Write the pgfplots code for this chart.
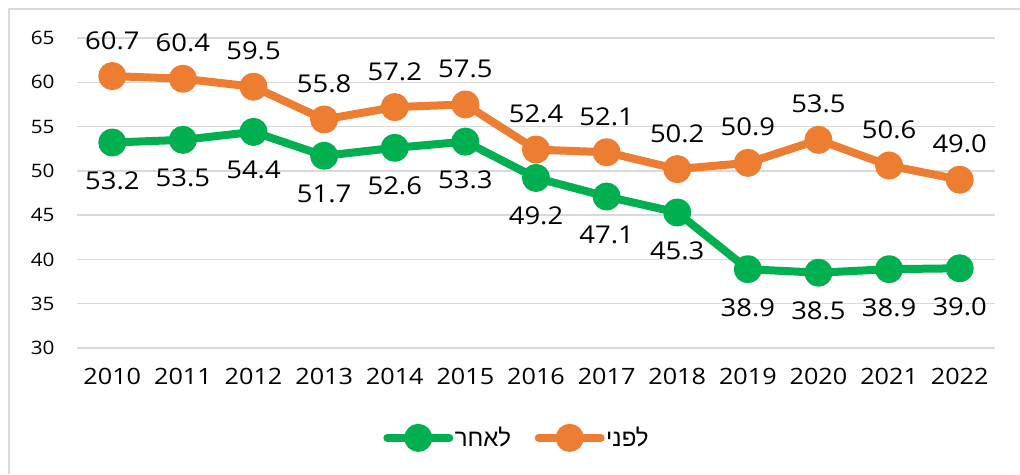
\documentclass[border=0pt]{standalone}
\usepackage{pgfplots}
\pgfplotsset{compat=1.18}
\usepackage{fontspec}
\setmainfont{Open Sans}[FakeStretch=1.12]
\newfontfamily\hebfont[Script=Hebrew]{Liberation Sans}
\TeXXeTstate=1
\definecolor{cOrange}{HTML}{ED7D31}
\definecolor{cGreen}{HTML}{00B050}
\definecolor{cGrid}{HTML}{D9D9D9}
\begin{document}
\begin{tikzpicture}[x=1pt,y=1pt]
\useasboundingbox (0,0) rectangle (1020,474);
\draw[cGrid, line width=2pt] (9,0) -- (9,465) -- (1020,465);
\begin{axis}[
  at={(77pt,126pt)}, anchor=south west,
  scale only axis, width=918pt, height=310pt,
  xmin=-0.5, xmax=12.5, ymin=30, ymax=65,
  xtick={0,...,12},
  xticklabels={2010,2011,2012,2013,2014,2015,2016,2017,2018,2019,2020,2021,2022},
  ytick={30,35,...,65},
  axis line style={draw=none},
  tick style={draw=none},
  ymajorgrids, grid style={cGrid, line width=1.5pt},
  /pgf/number format/assume math mode=true,
  yticklabel style={font=\fontsize{18.5}{22}\selectfont, xshift=-19pt},
  xticklabel style={font=\fontsize{22.5}{26}\selectfont, yshift=-17pt},
  legend columns=2,
  legend style={draw=none, at={(0.479,-0.29)}, anchor=center,
    font=\fontsize{24}{28}\selectfont,
    nodes={inner sep=1.5pt},
    /tikz/every even column/.append style={column sep=22pt}},
  legend image code/.code={\draw[mark repeat=2,mark phase=2,#1] plot coordinates {(0pt,0pt) (31pt,0pt) (62pt,0pt)};},
  nodes near coords={\pgfmathprintnumber[fixed,fixed zerofill,precision=1,assume math mode=true]{\pgfplotspointmeta}},
  point meta=y,
  every node near coord/.append style={font=\fontsize{24.5}{28}\selectfont, text=black},
]
\addplot[cGreen, line width=8pt, line cap=round, line join=round, mark=*, mark size=10pt, mark options={solid},
  every node near coord/.append style={anchor=base, yshift=-47pt}]
  coordinates {(0,53.2) (1,53.5) (2,54.4) (3,51.7) (4,52.6) (5,53.3) (6,49.2) (7,47.1) (8,45.3) (9,38.9) (10,38.5) (11,38.9) (12,39.0)};
\addlegendentry{\hebfont\beginR לאחר\endR}
\addplot[cOrange, line width=8pt, line cap=round, line join=round, mark=*, mark size=10pt, mark options={solid},
  every node near coord/.append style={anchor=base, yshift=27pt}]
  coordinates {(0,60.7) (1,60.4) (2,59.5) (3,55.8) (4,57.2) (5,57.5) (6,52.4) (7,52.1) (8,50.2) (9,50.9) (10,53.5) (11,50.6) (12,49.0)};
\addlegendentry{\hebfont\beginR לפני\endR}
\end{axis}
\end{tikzpicture}
\end{document}
